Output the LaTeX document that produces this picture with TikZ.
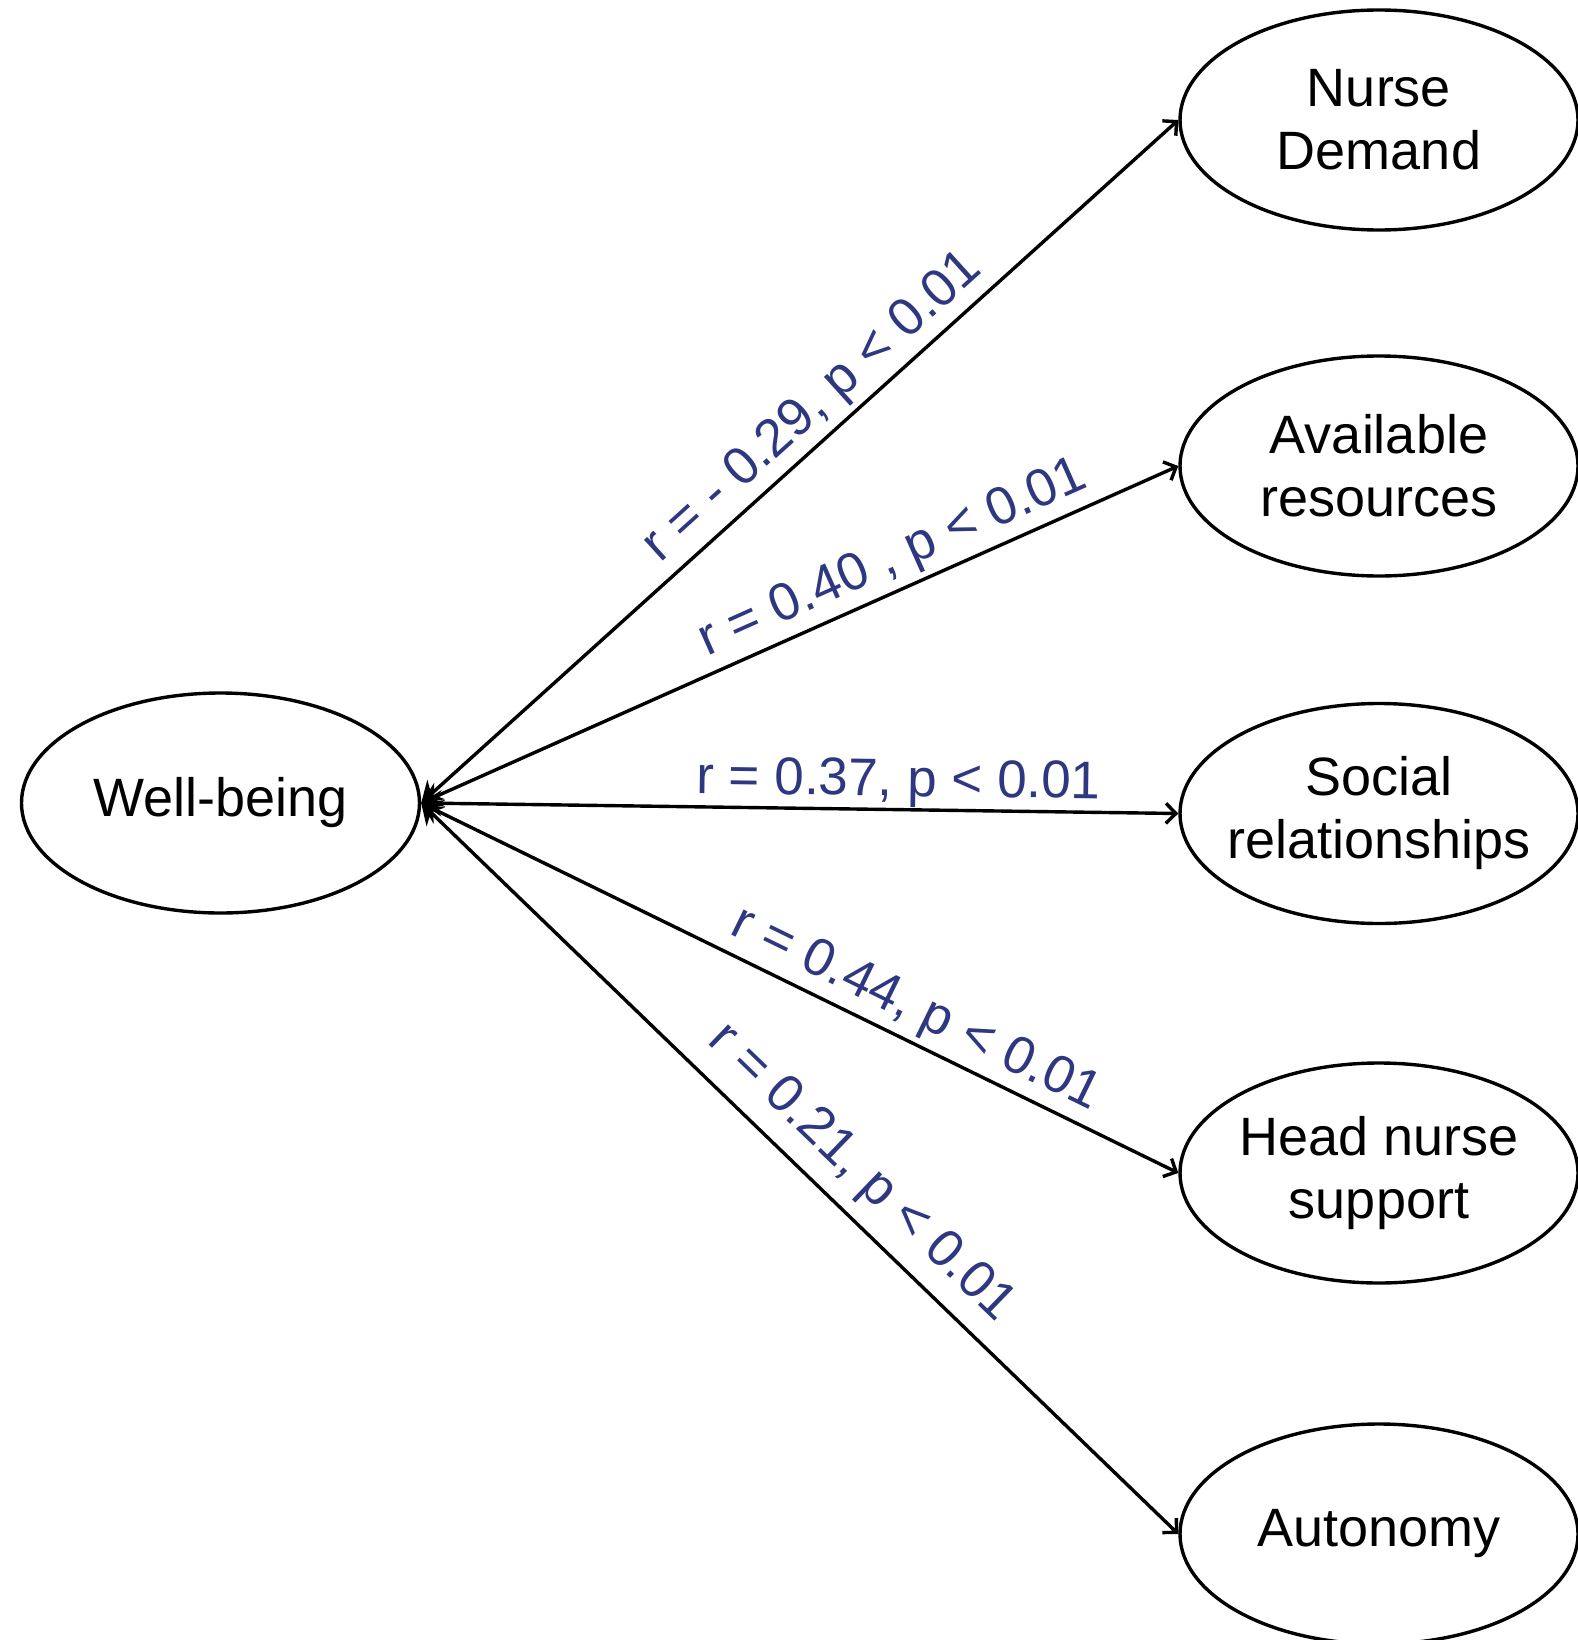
\documentclass[tikz,border=0pt]{standalone}
\usepackage{fontspec}
\setmainfont{Liberation Sans}
\usetikzlibrary{shapes.geometric,arrows.meta}
\definecolor{lblue}{RGB}{46,56,128}
\begin{document}
\begin{tikzpicture}[x=1pt,y=-1pt,
  oval/.style={ellipse,draw,line width=3.4pt,minimum width=398pt,minimum height=220pt,inner ysep=0pt,inner xsep=-30pt,align=center,font=\fontsize{54}{63}\selectfont},
  conn/.style={line width=3.4pt,{Stealth[length=20pt,width=26pt]}-{Straight Barb[length=10pt,width=20pt,line width=3.4pt]}},
  lab/.style={sloped,inner sep=0pt,text=lblue,font=\fontsize{53}{63}\selectfont}]
\useasboundingbox (0,0) rectangle (1578,1640);
\node[oval] (wb) at (220.5,803) {Well-being};
\node[oval] (nd) at (1379,120) {Nurse\\Demand};
\node[oval] (ar) at (1379,466) {Available\\resources};
\node[oval] (sr) at (1379,813.5) {Social\\relationships};
\node[oval] (hn) at (1379,1173) {Head nurse\\support};
\node[oval] (au) at (1379,1534) {Autonomy};
\draw[conn] (wb.east) -- node[lab,pos=0.545,above=5pt] {r = - 0.29, p {<} 0.01} (nd.west);
\draw[conn] (wb.east) -- node[lab,pos=0.64,above=5pt] {r = 0.40 , p {<} 0.01} (ar.west);
\draw[conn] (wb.east) -- node[lab,pos=0.63,above=1pt] {r = 0.37, p {<} 0.01} (sr.west);
\draw[conn] (wb.east) -- node[lab,pos=0.635,above=5pt] {r = 0.44, p {<} 0.01} (hn.west);
\draw[conn] (wb.east) -- node[lab,pos=0.545,above=13pt] {r = 0.21, p {<} 0.01} (au.west);
\end{tikzpicture}
\end{document}
